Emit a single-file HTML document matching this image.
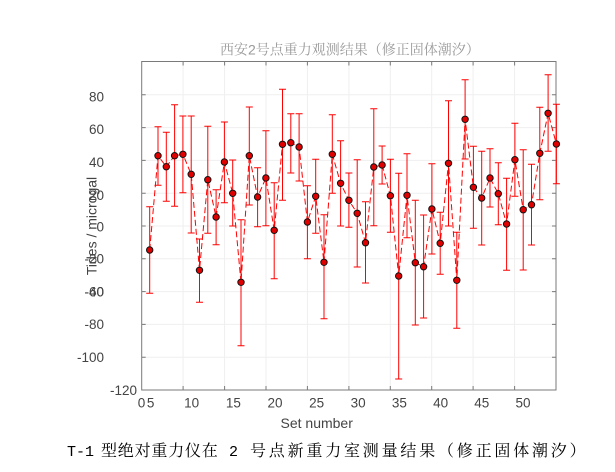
<!DOCTYPE html>
<html><head><meta charset="utf-8"><style>
html,body{margin:0;padding:0;background:#fff;}
svg{display:block;}
</style></head><body>
<svg width="615" height="472" viewBox="0 0 615 472" xmlns="http://www.w3.org/2000/svg">
<rect x="0" y="0" width="615" height="472" fill="#fff"/>
<text x="220" y="54.5" font-family="'Noto Serif CJK SC', 'Liberation Serif', serif" font-size="14" fill="#9a9a9a">西安<tspan font-family="'Liberation Sans', sans-serif">2</tspan>号点重力观测结果（修正固体潮汐）</text>
<rect x="141.7" y="61.5" width="414.3" height="328.5" fill="#fff"/>
<g stroke="#efefef" stroke-width="1">
<line x1="183.1" y1="61.5" x2="183.1" y2="390"/>
<line x1="224.6" y1="61.5" x2="224.6" y2="390"/>
<line x1="266" y1="61.5" x2="266" y2="390"/>
<line x1="307.4" y1="61.5" x2="307.4" y2="390"/>
<line x1="348.9" y1="61.5" x2="348.9" y2="390"/>
<line x1="390.3" y1="61.5" x2="390.3" y2="390"/>
<line x1="431.7" y1="61.5" x2="431.7" y2="390"/>
<line x1="473.1" y1="61.5" x2="473.1" y2="390"/>
<line x1="514.6" y1="61.5" x2="514.6" y2="390"/>
<line x1="141.7" y1="357.2" x2="556" y2="357.2"/>
<line x1="141.7" y1="324.4" x2="556" y2="324.4"/>
<line x1="141.7" y1="291.6" x2="556" y2="291.6"/>
<line x1="141.7" y1="258.8" x2="556" y2="258.8"/>
<line x1="141.7" y1="226" x2="556" y2="226"/>
<line x1="141.7" y1="193.2" x2="556" y2="193.2"/>
<line x1="141.7" y1="160.4" x2="556" y2="160.4"/>
<line x1="141.7" y1="127.6" x2="556" y2="127.6"/>
<line x1="141.7" y1="94.8" x2="556" y2="94.8"/>
</g>
<g stroke="#7a7a7a" stroke-width="1" fill="none">
<rect x="141.7" y="61.5" width="414.3" height="328.5"/>
<path d="M183.1,390v-4M224.6,390v-4M266,390v-4M307.4,390v-4M348.9,390v-4M390.3,390v-4M431.7,390v-4M473.1,390v-4M514.6,390v-4 M183.1,61.5v4M224.6,61.5v4M266,61.5v4M307.4,61.5v4M348.9,61.5v4M390.3,61.5v4M431.7,61.5v4M473.1,61.5v4M514.6,61.5v4 M141.7,357.2h4M141.7,324.4h4M141.7,291.6h4M141.7,258.8h4M141.7,226h4M141.7,193.2h4M141.7,160.4h4M141.7,127.6h4M141.7,94.8h4 M556,357.2h-4M556,324.4h-4M556,291.6h-4M556,258.8h-4M556,226h-4M556,193.2h-4M556,160.4h-4M556,127.6h-4M556,94.8h-4"/>
</g>
<path fill="none" stroke="#ff0000" stroke-width="1" d="M149.7 206.7V293.3M146.2 206.7h7M146.2 293.3h7 M158 126.7V185.3M154.5 126.7h7M154.5 185.3h7 M166.3 132.3V201.3M162.8 132.3h7M162.8 201.3h7 M174.6 104.7V206.3M171.1 104.7h7M171.1 206.3h7 M182.9 116V192.7M179.4 116h7M179.4 192.7h7 M191.2 116V233M187.7 116h7M187.7 233h7 M199.5 239V302.3M196 239h7M196 302.3h7 M207.8 126.3V233.3M204.3 126.3h7M204.3 233.3h7 M216.1 189.7V244.7M212.6 189.7h7M212.6 244.7h7 M224.4 122V202.7M220.9 122h7M220.9 202.7h7 M232.7 160V226M229.2 160h7M229.2 226h7 M241 219.7V345.7M237.5 219.7h7M237.5 345.7h7 M249.3 107V205M245.8 107h7M245.8 205h7 M257.6 167.7V226.7M254.1 167.7h7M254.1 226.7h7 M265.9 130.7V225.7M262.4 130.7h7M262.4 225.7h7 M274.2 182.7V278.7M270.7 182.7h7M270.7 278.7h7 M282.5 89.3V200.3M279 89.3h7M279 200.3h7 M290.8 113.7V173M287.3 113.7h7M287.3 173h7 M299.1 113.7V181M295.6 113.7h7M295.6 181h7 M307.4 185.7V258.7M303.9 185.7h7M303.9 258.7h7 M315.7 159.3V233.3M312.2 159.3h7M312.2 233.3h7 M324 214.7V318.7M320.5 214.7h7M320.5 318.7h7 M332.3 114.7V193.3M328.8 114.7h7M328.8 193.3h7 M340.6 140.7V226M337.1 140.7h7M337.1 226h7 M348.9 173V227.3M345.4 173h7M345.4 227.3h7 M357.2 159.7V267M353.7 159.7h7M353.7 267h7 M365.5 201.7V283M362 201.7h7M362 283h7 M373.8 108.7V225.7M370.3 108.7h7M370.3 225.7h7 M382.1 146V184M378.6 146h7M378.6 184h7 M390.4 159.3V232.3M386.9 159.3h7M386.9 232.3h7 M398.7 173.3V379M395.2 173.3h7M395.2 379h7 M407 153.7V237.7M403.5 153.7h7M403.5 237.7h7 M415.3 200.3V325M411.8 200.3h7M411.8 325h7 M423.6 215V318M420.1 215h7M420.1 318h7 M431.9 163.7V254M428.4 163.7h7M428.4 254h7 M440.2 212.3V274.3M436.7 212.3h7M436.7 274.3h7 M448.5 100.7V226M445 100.7h7M445 226h7 M456.8 232.3V328.3M453.3 232.3h7M453.3 328.3h7 M465.1 79.7V159M461.6 79.7h7M461.6 159h7 M473.4 146.3V228.3M469.9 146.3h7M469.9 228.3h7 M481.7 151.3V245M478.2 151.3h7M478.2 245h7 M490 148.7V207M486.5 148.7h7M486.5 207h7 M498.3 162.7V224.7M494.8 162.7h7M494.8 224.7h7 M506.6 178.3V270.3M503.1 178.3h7M503.1 270.3h7 M514.9 123.3V196.3M511.4 123.3h7M511.4 196.3h7 M523.2 149.7V270M519.7 149.7h7M519.7 270h7 M531.5 164.3V245M528 164.3h7M528 245h7 M539.8 107.3V199.7M536.3 107.3h7M536.3 199.7h7 M548.1 74.7V151.3M544.6 74.7h7M544.6 151.3h7 M556.4 104.3V183.7M552.9 104.3h7M552.9 183.7h7"/>
<polyline fill="none" stroke="#ff0000" stroke-width="1" stroke-dasharray="6,3" points="149.7,250 158,155.7 166.3,166.7 174.6,155.7 182.9,154.3 191.2,174.3 199.5,270.3 207.8,179.7 216.1,217 224.4,162 232.7,193.3 241,282.3 249.3,155.7 257.6,197 265.9,178 274.2,230.3 282.5,144.3 290.8,142.7 299.1,147 307.4,222 315.7,196.3 324,262.3 332.3,154.3 340.6,183.3 348.9,200.3 357.2,213.3 365.5,242.7 373.8,167 382.1,165 390.4,195.7 398.7,276 407,195.3 415.3,262.7 423.6,266.7 431.9,209 440.2,243.3 448.5,163.3 456.8,280.3 465.1,119.3 473.4,187.3 481.7,198 490,178 498.3,193.7 506.6,224 514.9,159.7 523.2,209.7 531.5,204.7 539.8,153.3 548.1,113.3 556.4,144"/>
<g fill="#e00000" stroke="#111" stroke-width="1">
<circle cx="149.7" cy="250" r="3.2"/><circle cx="158" cy="155.7" r="3.2"/><circle cx="166.3" cy="166.7" r="3.2"/><circle cx="174.6" cy="155.7" r="3.2"/><circle cx="182.9" cy="154.3" r="3.2"/>
<circle cx="191.2" cy="174.3" r="3.2"/><circle cx="199.5" cy="270.3" r="3.2"/><circle cx="207.8" cy="179.7" r="3.2"/><circle cx="216.1" cy="217" r="3.2"/><circle cx="224.4" cy="162" r="3.2"/>
<circle cx="232.7" cy="193.3" r="3.2"/><circle cx="241" cy="282.3" r="3.2"/><circle cx="249.3" cy="155.7" r="3.2"/><circle cx="257.6" cy="197" r="3.2"/><circle cx="265.9" cy="178" r="3.2"/>
<circle cx="274.2" cy="230.3" r="3.2"/><circle cx="282.5" cy="144.3" r="3.2"/><circle cx="290.8" cy="142.7" r="3.2"/><circle cx="299.1" cy="147" r="3.2"/><circle cx="307.4" cy="222" r="3.2"/>
<circle cx="315.7" cy="196.3" r="3.2"/><circle cx="324" cy="262.3" r="3.2"/><circle cx="332.3" cy="154.3" r="3.2"/><circle cx="340.6" cy="183.3" r="3.2"/><circle cx="348.9" cy="200.3" r="3.2"/>
<circle cx="357.2" cy="213.3" r="3.2"/><circle cx="365.5" cy="242.7" r="3.2"/><circle cx="373.8" cy="167" r="3.2"/><circle cx="382.1" cy="165" r="3.2"/><circle cx="390.4" cy="195.7" r="3.2"/>
<circle cx="398.7" cy="276" r="3.2"/><circle cx="407" cy="195.3" r="3.2"/><circle cx="415.3" cy="262.7" r="3.2"/><circle cx="423.6" cy="266.7" r="3.2"/><circle cx="431.9" cy="209" r="3.2"/>
<circle cx="440.2" cy="243.3" r="3.2"/><circle cx="448.5" cy="163.3" r="3.2"/><circle cx="456.8" cy="280.3" r="3.2"/><circle cx="465.1" cy="119.3" r="3.2"/><circle cx="473.4" cy="187.3" r="3.2"/>
<circle cx="481.7" cy="198" r="3.2"/><circle cx="490" cy="178" r="3.2"/><circle cx="498.3" cy="193.7" r="3.2"/><circle cx="506.6" cy="224" r="3.2"/><circle cx="514.9" cy="159.7" r="3.2"/>
<circle cx="523.2" cy="209.7" r="3.2"/><circle cx="531.5" cy="204.7" r="3.2"/><circle cx="539.8" cy="153.3" r="3.2"/><circle cx="548.1" cy="113.3" r="3.2"/><circle cx="556.4" cy="144" r="3.2"/>
</g>
<g font-family="'Liberation Sans', sans-serif" font-size="13.5" fill="#444" text-anchor="end">
<text x="104" y="101.5">80</text>
<text x="104" y="134.1">60</text>
<text x="104" y="167.1">40</text>
<text x="104" y="199.8">20</text>
<text x="104" y="231.5">0</text>
<text x="104" y="263.3">-20</text>
<text x="104" y="296.5">-40</text>
<text x="104" y="296.5">-60</text>
<text x="104" y="329.1">-80</text>
<text x="104" y="361.8">-100</text>
<text x="137" y="394.8">-120</text>
</g>
<text transform="translate(96.5,226) rotate(-90)" text-anchor="middle" font-family="'Liberation Sans', sans-serif" font-size="14" fill="#444">Tides / microgal</text>
<g font-family="'Liberation Sans', sans-serif" font-size="13.5" fill="#444" text-anchor="middle">
<text x="141.5" y="407.7">0</text>
<text x="150.6" y="407.7">5</text>
<text x="191.7" y="407.7">10</text>
<text x="233.4" y="407.7">15</text>
<text x="275" y="407.7">20</text>
<text x="316.6" y="407.7">25</text>
<text x="358.2" y="407.7">30</text>
<text x="399.4" y="407.7">35</text>
<text x="440.6" y="407.7">40</text>
<text x="481.8" y="407.7">45</text>
<text x="523" y="407.7">50</text>
</g>
<text x="316.7" y="428" text-anchor="middle" font-family="'Liberation Sans', sans-serif" font-size="14" fill="#444">Set number</text>
<g font-size="16" fill="#000">
<text x="67" y="456" font-family="'Liberation Mono', monospace" font-size="15">T-1</text>
<text x="101" y="456" font-family="'Noto Serif CJK SC', serif" letter-spacing="0.8">型绝对重力仪在</text>
<text x="229" y="456" font-family="'Liberation Mono', monospace" font-size="15">2</text>
<text x="250" y="456" font-family="'Noto Serif CJK SC', serif" letter-spacing="2.8">号点新重力室测量结果（修正固体潮汐）</text>
</g>
</svg>
</body></html>
